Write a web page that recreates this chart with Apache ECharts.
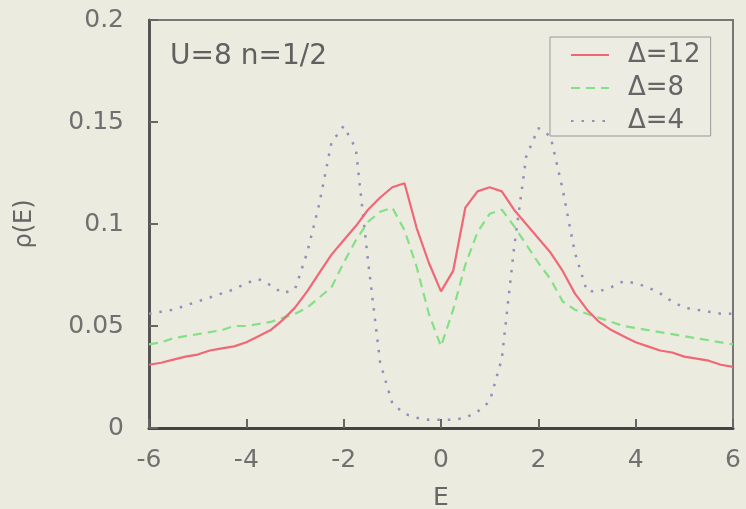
<!DOCTYPE html>
<html>
<head>
<meta charset="utf-8">
<script src="https://cdn.jsdelivr.net/npm/echarts@6/dist/echarts.min.js"></script>
<style>
  html, body {margin: 0; padding: 0; background: #ebebdf;}
  #chart {width: 746px; height: 509px;}
</style>
</head>
<body>
<div id="chart"></div>
<script>
// energy grid, step 0.25
let energies = [];
for (let i = 0; i <= 48; i++) energies.push(-6 + i * 0.25);

let rhoD12 = [0.031, 0.032, 0.0335, 0.035, 0.036, 0.038, 0.039, 0.040, 0.042, 0.045, 0.048, 0.053, 0.059,
  0.067, 0.076, 0.085, 0.092, 0.099, 0.107, 0.113, 0.118, 0.120, 0.098, 0.081, 0.067, 0.077, 0.108,
  0.116, 0.118, 0.116, 0.107, 0.100, 0.093, 0.086, 0.077, 0.066, 0.058, 0.052, 0.048, 0.045, 0.042,
  0.040, 0.038, 0.037, 0.035, 0.034, 0.033, 0.031, 0.030];

let rhoD8 = [0.041, 0.042, 0.044, 0.045, 0.046, 0.047, 0.048, 0.050, 0.050, 0.051, 0.052, 0.054, 0.056,
  0.059, 0.064, 0.069, 0.081, 0.092, 0.101, 0.106, 0.108, 0.097, 0.079, 0.056, 0.040, 0.058, 0.080,
  0.096, 0.105, 0.107, 0.099, 0.090, 0.081, 0.073, 0.062, 0.058, 0.056, 0.054, 0.052, 0.050, 0.049,
  0.048, 0.047, 0.046, 0.045, 0.044, 0.043, 0.042, 0.041];

let rhoD4 = [0.056, 0.057, 0.058, 0.060, 0.062, 0.064, 0.066, 0.068, 0.071, 0.073, 0.070, 0.066, 0.068,
  0.086, 0.110, 0.140, 0.148, 0.137, 0.082, 0.032, 0.012, 0.007, 0.005, 0.004, 0.004, 0.004, 0.005,
  0.008, 0.013, 0.034, 0.088, 0.133, 0.147, 0.143, 0.117, 0.086, 0.067, 0.067, 0.069, 0.072, 0.071,
  0.069, 0.066, 0.062, 0.059, 0.058, 0.057, 0.056, 0.056];

let seriesNames = ['Δ=12', 'Δ=8', 'Δ=4'];

function pairs(vals) {
  return energies.map(function(e, i) { return [e, vals[i]]; });
}

let chart = echarts.init(document.getElementById('chart'));
let labelStyle = {fontFamily: 'DejaVu Sans', fontSize: 25, color: '#707070'};

let option = {
  backgroundColor: '#ebebdf',
  animation: false,
  grid: {
    left: 149, right: 13, top: 20, bottom: 81, outerBoundsMode: 'none',
    show: true, borderColor: '#777', borderWidth: 2
  },
  legend: {
    left: 550, top: 37, orient: 'vertical',
    data: seriesNames,
    itemWidth: 38, itemHeight: 10, itemGap: 7,
    padding: [5, 10, 2, 20],
    borderColor: '#999', borderWidth: 1,
    backgroundColor: '#ececE2',
    itemStyle: {opacity: 0},
    textStyle: {fontFamily: 'DejaVu Sans', fontSize: 26, color: '#666', padding: [0, 0, 0, 14]}
  },
  xAxis: {
    type: 'value', min: -6, max: 6, interval: 2,
    name: 'E', nameLocation: 'middle', nameGap: 58,
    nameTextStyle: {fontFamily: 'DejaVu Sans', fontSize: 25, color: '#666'},
    axisLine: {onZero: false, lineStyle: {color: '#444', width: 3}},
    axisTick: {inside: true, length: 9, lineStyle: {color: '#666', width: 2}},
    axisLabel: Object.assign({margin: 20}, labelStyle),
    splitLine: {show: false}
  },
  yAxis: {
    type: 'value', min: 0, max: 0.2, interval: 0.05,
    name: 'ρ(E)', nameLocation: 'middle', nameGap: 112, nameRotate: 90,
    nameTextStyle: {fontFamily: 'DejaVu Sans', fontSize: 24, color: '#666'},
    axisLine: {show: true, onZero: false, lineStyle: {color: '#555', width: 3}},
    axisTick: {show: true, inside: true, length: 9, lineStyle: {color: '#666', width: 2}},
    axisLabel: Object.assign({margin: 25}, labelStyle),
    splitLine: {show: false}
  },
  graphic: [{
    type: 'text', left: 170, top: 43,
    style: {text: 'U=8 n=1/2', font: '28px "DejaVu Sans"', fill: '#606060'}
  }],
  series: [
    {
      name: seriesNames[0], type: 'line', symbol: 'none', data: pairs(rhoD12),
      lineStyle: {color: '#f06876', width: 2.2}, itemStyle: {color: '#f06876'}, z: 3
    },
    {
      name: seriesNames[1], type: 'line', symbol: 'none', data: pairs(rhoD8),
      lineStyle: {color: '#84e084', width: 2.2, type: [9, 6]}, itemStyle: {color: '#84e084'}, z: 2
    },
    {
      name: seriesNames[2], type: 'line', symbol: 'none', data: pairs(rhoD4),
      lineStyle: {color: '#9090bc', width: 2.5, type: [2.5, 8]}, itemStyle: {color: '#9090bc'}, z: 1
    }
  ]
};

chart.setOption(option);
</script>
</body>
</html>
